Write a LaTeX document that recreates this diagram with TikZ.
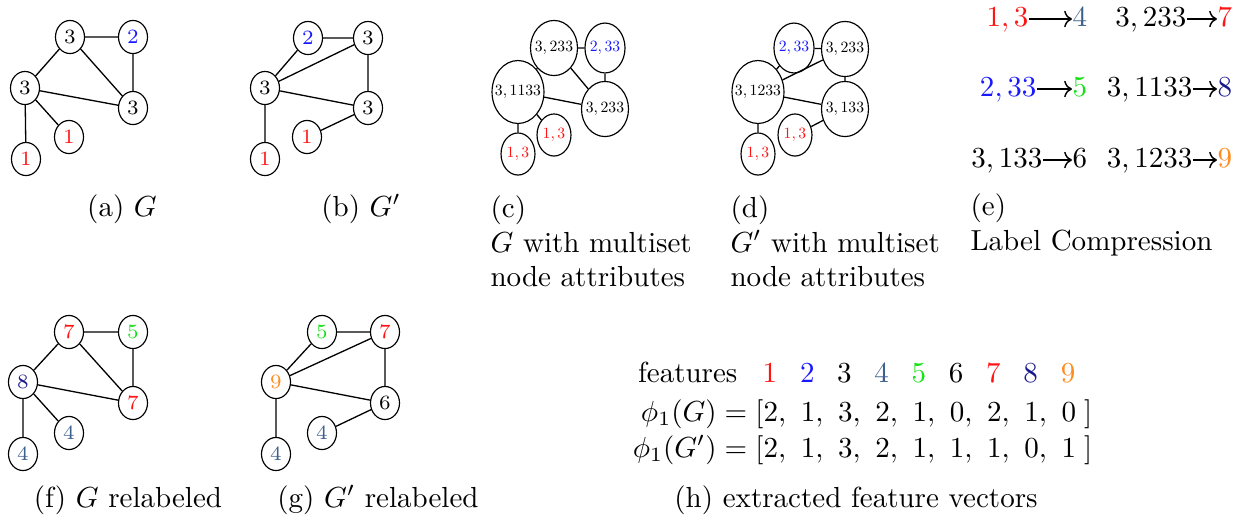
\documentclass[tikz,border=0pt]{standalone}
\usetikzlibrary{shapes.geometric,arrows.meta}
\definecolor{cred}{RGB}{255,20,20}
\definecolor{cblue}{RGB}{25,25,255}
\definecolor{csteel}{RGB}{62,96,140}
\definecolor{cgreen}{RGB}{20,225,20}
\definecolor{cnavy}{RGB}{25,25,140}
\definecolor{corange}{RGB}{255,140,30}
\newcommand\zbox[1]{\makebox[0pt]{\scalebox{0.54}{#1}}}
\begin{document}
\begin{tikzpicture}[x=0.3446pt,y=-0.3446pt,
  gnode/.style={draw,ellipse,inner sep=0pt,minimum width=10pt,minimum height=11.4pt,font=\scriptsize},
  mnode/.style={draw,ellipse,inner sep=0pt},
  mbig/.style={mnode,minimum width=17.9pt,minimum height=21.7pt},
  mmid/.style={mnode,minimum width=16.2pt,minimum height=19pt},
  msml/.style={mnode,minimum width=13.8pt,minimum height=17.2pt},
  mone/.style={mnode,minimum width=11.7pt,minimum height=14.5pt},
  gedge/.style={draw,line width=0.45pt},
  captxt/.style={inner sep=0pt,anchor=base},
  lcaptxt/.style={inner sep=0pt,anchor=north west,align=left},
  etxt/.style={inner sep=0pt,text height=1.6ex,text depth=0.45ex},
  earrow/.style={line width=0.5pt,-{Computer Modern Rightarrow}},
  ftxt/.style={inner sep=0pt,anchor=base}]
\useasboundingbox (0,0) rectangle (1250,524);

% (a) G
\node[gnode] (a3t) at (70,37) {3};
\node[gnode,text=cblue] (a2) at (133,37) {2};
\node[gnode] (a3l) at (25,88) {3};
\node[gnode] (a3r) at (133,108) {3};
\node[gnode,text=cred] (a1m) at (69,137) {1};
\node[gnode,text=cred] (a1b) at (26,159) {1};
\path[gedge] (a3t) -- (a2) (a3t) -- (a3l) (a3t) -- (a3r) (a2) -- (a3r)
  (a3l) -- (a3r) (a3l) -- (a1m) (a3l) -- (a1b);
\node[captxt] (capa) at (122,216) {(a) $G$};

% (b) G'
\node[gnode,text=cblue] (b2) at (308,38) {2};
\node[gnode] (b3t) at (368,38) {3};
\node[gnode] (b3l) at (265,88) {3};
\node[gnode] (b3r) at (368,108) {3};
\node[gnode,text=cred] (b1m) at (307,137) {1};
\node[gnode,text=cred] (b1b) at (265,159) {1};
\path[gedge] (b2) -- (b3t) (b2) -- (b3l) (b3l) -- (b3t) (b3t) -- (b3r)
  (b3l) -- (b3r) (b3l) -- (b1b) (b3r) -- (b1m);
\node[captxt] (capb) at (361,216) {(b) $G'$};

% (c)
\node[mmid] (ct) at (554,48) {\zbox{$3,233$}};
\node[msml,text=cblue] (cb) at (605,48) {\zbox{$2,33$}};
\node[mbig] (cl) at (518,92) {\zbox{$3,1133$}};
\node[mmid] (cr) at (605,109) {\zbox{$3,233$}};
\node[mone,text=cred] (cm) at (554,135) {\zbox{$1,3$}};
\node[mone,text=cred] (cbt) at (518,154) {\zbox{$1,3$}};
\path[gedge] (ct) -- (cb) (ct) -- (cl) (ct) -- (cr) (cb) -- (cr)
  (cl) -- (cr) (cl) -- (cm) (cl) -- (cbt);
\node[lcaptxt] (capc) at (490,195) {(c)\\$G$ with multiset\\node attributes};

% (d)
\node[msml,text=cblue] (db) at (794,48) {\zbox{$2,33$}};
\node[mmid] (dt) at (845,49) {\zbox{$3,233$}};
\node[mbig] (dl) at (758,92) {\zbox{$3,1233$}};
\node[mmid] (dr) at (845,109) {\zbox{$3,133$}};
\node[mone,text=cred] (dm) at (795,135) {\zbox{$1,3$}};
\node[mone,text=cred] (dbt) at (758,154) {\zbox{$1,3$}};
\path[gedge] (db) -- (dt) (db) -- (dl) (dl) -- (dt) (dt) -- (dr)
  (dl) -- (dr) (dl) -- (dbt) (dr) -- (dm);
\node[lcaptxt] (capd) at (730,195) {(d)\\$G'$ with multiset\\node attributes};

% (e) label compression
\node[etxt,anchor=east] (e1l) at (1029,19) {$\textcolor{cred}{1,3}$};
\node[etxt,anchor=west,text=csteel] (e1r) at (1072,19) {$4$};
\node[etxt,anchor=east] (e2l) at (1037,89) {$\textcolor{cblue}{2,33}$};
\node[etxt,anchor=west,text=cgreen] (e2r) at (1072,89) {$5$};
\node[etxt,anchor=east] (e3l) at (1043,160) {$3,133$};
\node[etxt,anchor=west] (e3r) at (1072,160) {$6$};
\node[etxt,anchor=east] (e4l) at (1187,19) {$3,233$};
\node[etxt,anchor=west,text=cred] (e4r) at (1217,19) {$7$};
\node[etxt,anchor=east] (e5l) at (1193,89) {$3,1133$};
\node[etxt,anchor=west,text=cnavy] (e5r) at (1217,89) {$8$};
\node[etxt,anchor=east] (e6l) at (1193,160) {$3,1233$};
\node[etxt,anchor=west,text=corange] (e6r) at (1217,160) {$9$};
\foreach \i in {1,...,6} {\draw[earrow] (e\i l) -- (e\i r);}
\node[lcaptxt] (cape) at (970,193) {(e)\\Label Compression};

% (f) G relabeled
\node[gnode,text=cred] (f7t) at (69,332) {7};
\node[gnode,text=cgreen] (f5) at (133,332) {5};
\node[gnode,text=cnavy] (f8) at (23,382) {8};
\node[gnode,text=cred] (f7r) at (133,403) {7};
\node[gnode,text=csteel] (f4m) at (69,433) {4};
\node[gnode,text=csteel] (f4b) at (23,454) {4};
\path[gedge] (f7t) -- (f5) (f7t) -- (f8) (f7t) -- (f7r) (f5) -- (f7r)
  (f8) -- (f7r) (f8) -- (f4m) (f8) -- (f4b);
\node[captxt] (capf) at (128,507) {(f) $G$ relabeled};

% (g) G' relabeled
\node[gnode,text=cgreen] (g5) at (322,332) {5};
\node[gnode,text=cred] (g7) at (385,332) {7};
\node[gnode,text=corange] (g9) at (276,382) {9};
\node[gnode] (g6) at (385,403) {6};
\node[gnode,text=csteel] (g4m) at (322,433) {4};
\node[gnode,text=csteel] (g4b) at (276,454) {4};
\path[gedge] (g5) -- (g7) (g5) -- (g9) (g9) -- (g7) (g7) -- (g6)
  (g9) -- (g6) (g6) -- (g4m) (g9) -- (g4b);
\node[captxt] (capg) at (378,507) {(g) $G'$ relabeled};

% (h) feature vectors
\node[ftxt,anchor=base east] (hf) at (738,382) {features};
\foreach \c/\col [count=\k] in {1/cred,2/cblue,3/black,4/csteel,5/cgreen,6/black,7/cred,8/cnavy,9/corange}
  {\node[ftxt,text=\col] (hc\k) at ({770+37.25*(\k-1)},382) {$\c$};}
\node[ftxt,anchor=base east] (hg) at (764,421) {$\phi_1(G) = [$};
\foreach \v [count=\k] in {2,1,3,2,1,0,2,1}
  {\node[ftxt,anchor=base west] (hgv\k) at ({763+37.25*(\k-1)},421) {$\v,$};}
\node[ftxt,anchor=base west] (hgv9) at (1061,421) {$0\;]$};
\node[ftxt,anchor=base east] (hh) at (764,457) {$\phi_1(G') = [$};
\foreach \v [count=\k] in {2,1,3,2,1,1,1,0}
  {\node[ftxt,anchor=base west] (hhv\k) at ({763+37.25*(\k-1)},457) {$\v,$};}
\node[ftxt,anchor=base west] (hhv9) at (1061,457) {$1\;]$};
\node[captxt] (caph) at (856,507) {(h) extracted feature vectors};
\end{tikzpicture}
\end{document}
